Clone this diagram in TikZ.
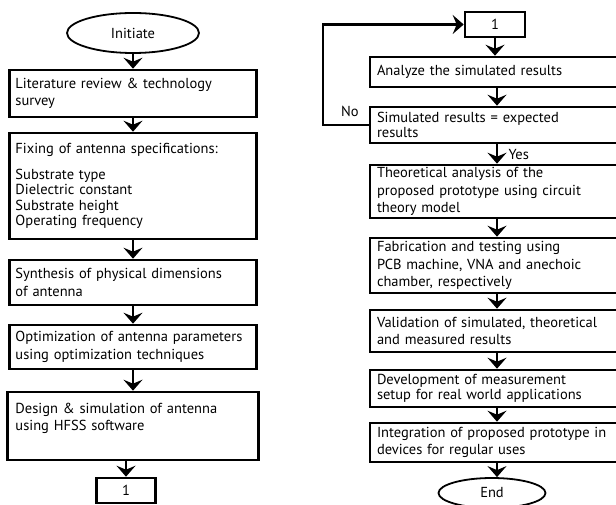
\documentclass[tikz,border=0pt]{standalone}
\usepackage{fontspec}
\setmainfont{PT Sans}
\usetikzlibrary{arrows.meta, shapes.geometric, positioning}

\begin{document}
\begin{tikzpicture}[x=1pt, y=-1pt,
        font=\fontsize{14.5}{17.5}\selectfont,
        lbox/.style={draw, line width=2.6pt, rectangle, align=left, text width=235pt, minimum width=247pt, inner xsep=6pt, inner ysep=2pt},
        rbox/.style={draw, line width=2.6pt, rectangle, align=left, text width=240pt, minimum width=254pt, inner xsep=7pt, inner ysep=2pt},
        term/.style={draw, line width=1.8pt, ellipse, inner sep=0pt},
        conn/.style={draw, line width=2.6pt, rectangle, minimum width=59pt, minimum height=25pt, inner sep=0pt},
        arr/.style={line width=2.4pt, -{Stealth[length=11pt, width=19pt, inset=4pt]}}]
    \useasboundingbox (0,0) rectangle (616,505);
    \clip (0,0) rectangle (616,505);

    % left column
    \node[term, minimum width=132pt, minimum height=40pt] at (133,33)   (init) {Initiate};
    \node[lbox, minimum height=47pt] at (133,93.5)   (lit) {Literature review \& technology\\survey};
    \node[lbox, minimum height=106pt] at (133,186)   (fix) {Fixing of antenna specifications:\\[8pt]Substrate type\\[-2pt]Dielectric constant\\[-2pt]Substrate height\\[-2pt]Operating frequency};
    \node[lbox, minimum height=45pt] at (133,282.5)   (syn) {Synthesis of physical dimensions\\of antenna};
    \node[lbox, minimum height=44pt] at (133,347)   (opt) {Optimization of antenna parameters\\using optimization techniques};
    \node[lbox, minimum width=251pt, minimum height=68pt] at (133,426)   (des) {Design \& simulation of antenna\\using HFSS software\\[1pt]\mbox{}};
    \node[conn] at (126,490.5)   (one) {1};
    \draw [arr] (init) -- (lit);
    \draw [arr] (lit) -- (fix);
    \draw [arr] (fix) -- (syn);
    \draw [arr] (syn) -- (opt);
    \draw [arr] (opt) -- (des);
    \draw [arr] (des.south -| one) -- (one.north);

    % right column
    \node[conn, minimum width=60pt] at (495,24.5)   (two) {1};
    \node[rbox, minimum height=30pt] at (497,72)   (ana) {Analyze the simulated results};
    \node[rbox, minimum height=36pt] at (497,125)   (sim) {Simulated results = expected\\[-2pt]results};
    \node[rbox, minimum height=53pt] at (497,191.5)   (the) {Theoretical analysis of the\\proposed prototype using circuit\\theory model};
    \node[rbox, minimum height=55pt] at (497,265.5)   (fab) {Fabrication and testing using\\PCB machine, VNA and anechoic\\chamber, respectively};
    \node[rbox, minimum height=42pt] at (497,331)   (val) {Validation of simulated, theoretical\\and measured results};
    \node[rbox, minimum height=37pt] at (497,388.5)   (dev) {Development of measurement\\[-2pt]setup for real world applications};
    \node[rbox, minimum height=39pt] at (497,442.5)   (int) {Integration of proposed prototype in\\devices for regular uses};
    \node[term, minimum width=107pt, minimum height=30pt] at (492,493)   (fin) {End};
    \node at (350,111)   (no) {No};
    \node[right=8pt of sim.south, yshift=-10pt]   (yes) {Yes};
    \draw [arr] (two) -- (two |- ana.north);
    \draw [arr] (ana) -- (sim);
    \draw [arr] (sim) -- (the);
    \draw [arr] (the) -- (fab);
    \draw [arr] (fab) -- (val);
    \draw [arr] (val) -- (dev);
    \draw [arr] (dev) -- (int);
    \draw [arr] (int) -- (int |- fin.north);
    \draw [arr] (sim.west) -- ++(-46,0) |- (two.west);
\end{tikzpicture}
\end{document}
